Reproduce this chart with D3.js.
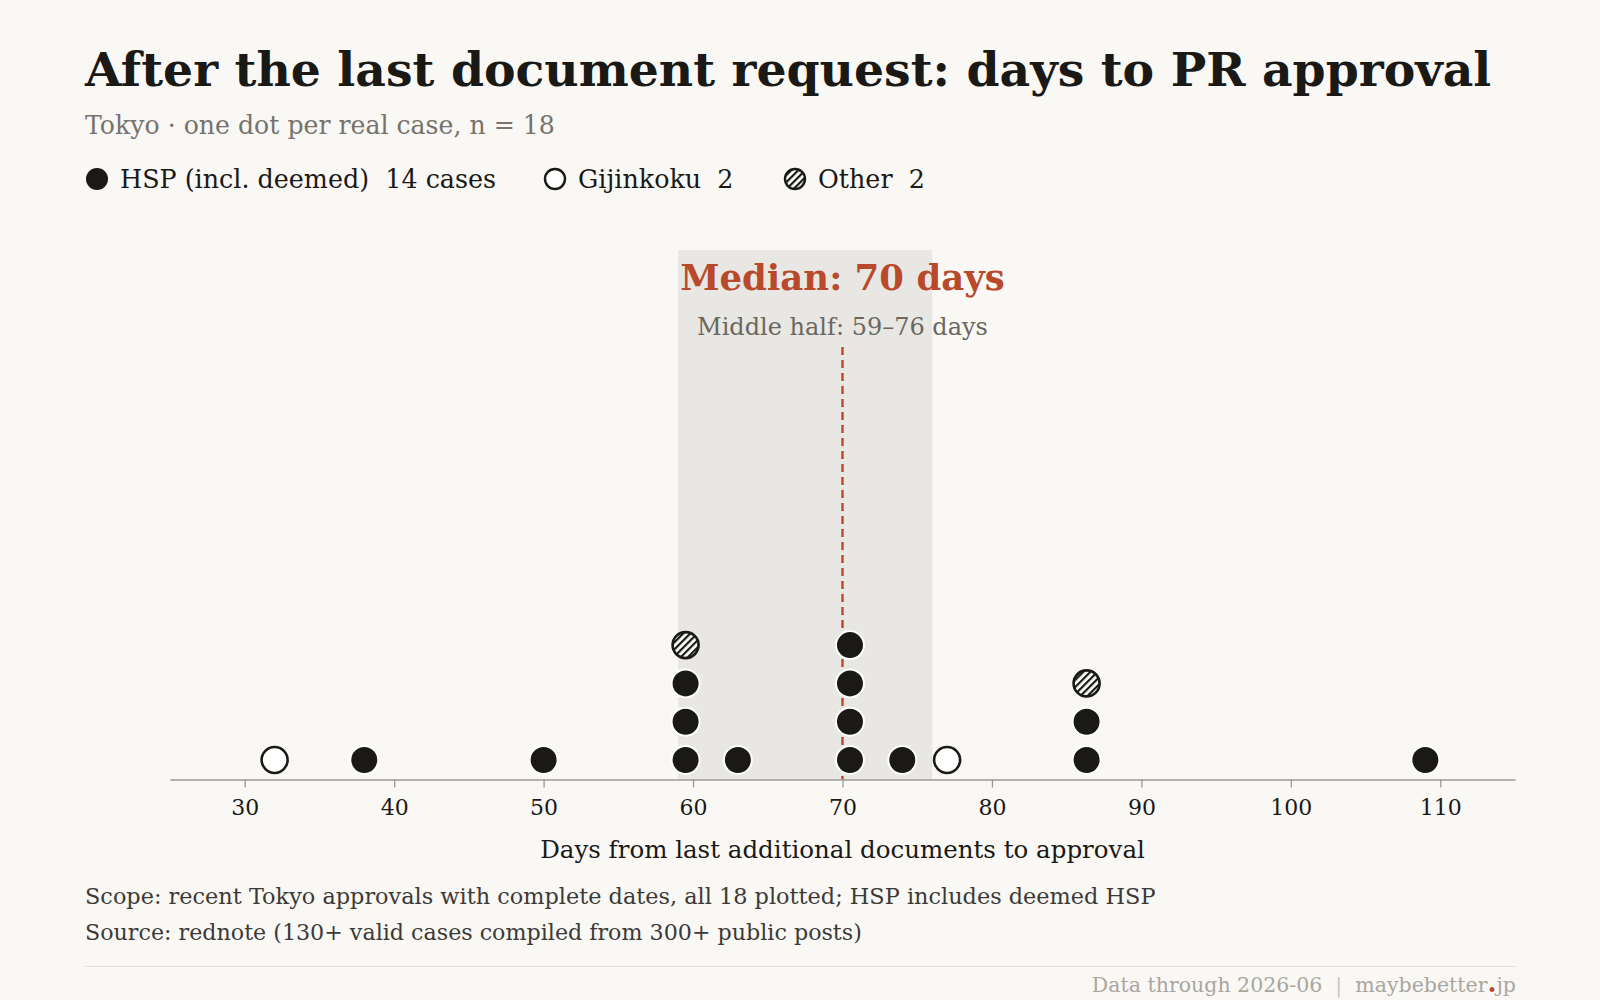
<!DOCTYPE html>
<html>
<head>
<meta charset="utf-8">
<script src="https://cdn.jsdelivr.net/npm/d3@7"></script>
<style>
  html, body { margin: 0; padding: 0; background: #f9f8f5; }
  svg { display: block; font-family: "DejaVu Serif", "Liberation Serif", serif; }
  text { white-space: pre; }
</style>
</head>
<body>
<div id="chart"></div>
<script>
// cases, days from last document request to approval
const hspDays = [38, 50, 59, 59, 60, 63, 70, 70, 71, 71, 74, 86, 86, 109];
const gijinkokuDays = [32, 77];
const otherDays = [60, 87];

const categories = ['HSP', 'Gijinkoku', 'Other'];
const legendLabels = ['HSP (incl. deemed)  14 cases', 'Gijinkoku  2', 'Other  2'];
const tickDays = [30, 40, 50, 60, 70, 80, 90, 100, 110];

const W = 1600, H = 1000;
const ink = '#1a1915';
const red = '#b84a2b';

const svg = d3.select('#chart').append('svg')
  .attr('width', W)
  .attr('height', H);

svg.append('rect').attr('width', W).attr('height', H).attr('fill', '#f9f8f5');

// hatch pattern for "Other"
const defs = svg.append('defs');
const pat = defs.append('pattern')
  .attr('id', 'hatch')
  .attr('patternUnits', 'userSpaceOnUse')
  .attr('width', 5).attr('height', 5)
  .attr('patternTransform', 'rotate(45)');
pat.append('rect').attr('width', 5).attr('height', 5).attr('fill', '#fff');
pat.append('rect').attr('width', 2.2).attr('height', 5).attr('fill', ink);

// scales
const x = d3.scaleLinear().domain([25, 115]).range([170, 1515]);
const level = d3.scaleLinear().domain([0, 1]).range([760, 721.7]);
const axisY = 779.5;

// build the cases and stack near-equal values in one column
const cases = [];
hspDays.forEach(d => cases.push({ days: d, type: 'HSP' }));
gijinkokuDays.forEach(d => cases.push({ days: d, type: 'Gijinkoku' }));
otherDays.forEach(d => cases.push({ days: d, type: 'Other' }));
cases.sort((a, b) => a.days - b.days || categories.indexOf(a.type) - categories.indexOf(b.type));

const columns = [];
cases.forEach(c => {
  const last = columns[columns.length - 1];
  if (last && c.days - last[0].days <= 1) last.push(c);
  else columns.push([c]);
});
const dots = [];
columns.forEach(col => {
  const mx = d3.mean(col, d => d.days);
  col.sort((a, b) => categories.indexOf(a.type) - categories.indexOf(b.type))
    .forEach((c, i) => dots.push({ ...c, cx: mx, lvl: i }));
});

const all = cases.map(d => d.days).sort(d3.ascending);
const median = Math.round(d3.quantile(all, 0.5));
const q1 = Math.round(d3.quantile(all, 0.25));
const q3 = Math.round(d3.quantile(all, 0.75));

// middle half band
svg.append('rect')
  .attr('x', x(q1))
  .attr('width', x(q3) - x(q1))
  .attr('y', 250)
  .attr('height', axisY - 250)
  .attr('fill', '#e8e7e3');

// median line
svg.append('line')
  .attr('x1', x(median)).attr('x2', x(median))
  .attr('y1', 347).attr('y2', axisY)
  .attr('stroke', red)
  .attr('stroke-width', 2.4)
  .attr('stroke-dasharray', '8,5');

svg.append('text')
  .attr('x', x(median)).attr('y', 290)
  .attr('text-anchor', 'middle')
  .attr('font-size', 35.5).attr('font-weight', 'bold')
  .attr('fill', red)
  .text(`Median: ${median} days`);

svg.append('text')
  .attr('x', x(median)).attr('y', 335)
  .attr('text-anchor', 'middle')
  .attr('font-size', 24)
  .attr('fill', '#6b6760')
  .text(`Middle half: ${q1}\u2013${q3} days`);

// axis
const axis = svg.append('g')
  .attr('transform', `translate(0,${axisY})`)
  .call(d3.axisBottom(x).tickValues(tickDays).tickSize(8).tickSizeOuter(0).tickPadding(12));
axis.select('.domain').attr('stroke', '#9b9994').attr('stroke-width', 1.3);
axis.selectAll('.tick line').attr('stroke', '#9b9994').attr('stroke-width', 1.3);
axis.selectAll('.tick text')
  .attr('font-family', '"DejaVu Serif", serif')
  .attr('font-size', 22)
  .attr('fill', ink);

svg.append('text')
  .attr('x', x(70)).attr('y', 858)
  .attr('text-anchor', 'middle')
  .attr('font-size', 24.5)
  .attr('fill', ink)
  .text('Days from last additional documents to approval');

// dots
function styleDot(sel) {
  sel.attr('fill', d => d.type === 'HSP' ? ink : d.type === 'Gijinkoku' ? '#fff' : 'url(#hatch)')
    .attr('stroke', d => d.type === 'HSP' ? '#fff' : ink)
    .attr('stroke-width', d => d.type === 'HSP' ? 2 : 2.6);
}

svg.selectAll('.dot')
  .data(dots)
  .enter()
  .append('circle')
  .attr('class', 'dot')
  .attr('cx', d => x(d.cx))
  .attr('cy', d => level(d.lvl))
  .attr('r', d => d.type === 'HSP' ? 14 : 13)
  .call(styleDot);

// title block
svg.append('text')
  .attr('x', 85).attr('y', 86)
  .attr('font-size', 47.3).attr('font-weight', 'bold')
  .attr('fill', ink)
  .text('After the last document request: days to PR approval');

svg.append('text')
  .attr('x', 85).attr('y', 134)
  .attr('font-size', 25.2)
  .attr('fill', '#77736c')
  .text('Tokyo \u00b7 one dot per real case, n = 18');

// legend
const legendX = [97, 555, 795];
const legend = svg.selectAll('.legend')
  .data(categories.map((c, i) => ({ type: c, label: legendLabels[i], lx: legendX[i] })))
  .enter()
  .append('g')
  .attr('class', 'legend')
  .attr('transform', d => `translate(${d.lx},179)`);
legend.append('circle')
  .attr('r', d => d.type === 'HSP' ? 11 : 10)
  .call(sel => sel
    .attr('fill', d => d.type === 'HSP' ? ink : d.type === 'Gijinkoku' ? '#fff' : 'url(#hatch)')
    .attr('stroke', ink)
    .attr('stroke-width', d => d.type === 'HSP' ? 0 : 2.4));
legend.append('text')
  .attr('x', 23).attr('y', 9)
  .attr('font-size', 25.4)
  .attr('fill', ink)
  .text(d => d.label);

// notes
svg.append('text')
  .attr('x', 85).attr('y', 904)
  .attr('font-size', 22.4)
  .attr('fill', '#3c3a36')
  .text('Scope: recent Tokyo approvals with complete dates, all 18 plotted; HSP includes deemed HSP');
svg.append('text')
  .attr('x', 85).attr('y', 940)
  .attr('font-size', 22.2)
  .attr('fill', '#3c3a36')
  .text('Source: rednote (130+ valid cases compiled from 300+ public posts)');

svg.append('line')
  .attr('x1', 85).attr('x2', 1516)
  .attr('y1', 966.5).attr('y2', 966.5)
  .attr('stroke', '#e4e1db')
  .attr('stroke-width', 1.2);

const foot = svg.append('text')
  .attr('x', 1516).attr('y', 992)
  .attr('text-anchor', 'end')
  .attr('font-size', 20.5)
  .attr('fill', '#a9a69f');
foot.append('tspan').text('Data through 2026-06');
foot.append('tspan').attr('fill', '#c9c6bf').text('  |  ');
foot.append('tspan').text('maybebetter');
foot.append('tspan').attr('fill', red).attr('font-weight', 'bold').attr('font-size', 26).text('.');
foot.append('tspan').text('jp');
</script>
</body>
</html>
